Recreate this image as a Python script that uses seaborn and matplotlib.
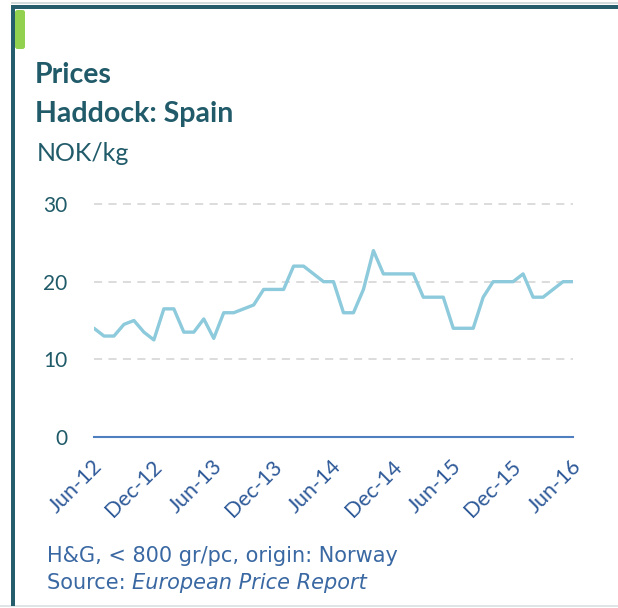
import numpy as np
import pandas as pd
import matplotlib
matplotlib.use("Agg")
import matplotlib.pyplot as plt
import matplotlib.transforms as mtransforms
from matplotlib.patches import Rectangle, FancyBboxPatch
import seaborn as sns

# ---- data ----
months = [d.strftime("%b-%y") for d in pd.date_range("2012-06-01", "2016-06-01", freq="MS")]
prices = [14.0, 13.0, 13.0, 14.5, 15.0, 13.5, 12.5, 16.5, 16.5, 13.5, 13.5, 15.2, 12.7,
          16.0, 16.0, 16.5, 17.0, 19.0, 19.0, 19.0, 22.0, 22.0, 21.0, 20.0, 20.0,
          16.0, 16.0, 19.0, 24.0, 21.0, 21.0, 21.0, 21.0, 18.0, 18.0, 18.0,
          14.0, 14.0, 14.0, 18.0, 20.0, 20.0, 20.0, 21.0, 18.0, 18.0, 19.0, 20.0, 20.0]
tick_labels = ["Jun-12", "Dec-12", "Jun-13", "Dec-13", "Jun-14", "Dec-14", "Jun-15", "Dec-15", "Jun-16"]
y_ticks = [0, 10, 20, 30]

df = pd.DataFrame({"month": months, "price": prices})
df["pos"] = range(len(df))

sns.set_theme(style="white")
plt.rcParams["font.family"] = ["Lato", "DejaVu Sans"]

W, H = 618, 608
fig = plt.figure(figsize=(W / 100, H / 100), dpi=100)

def fx(px):
    return px / W

def fy(py):
    return 1 - py / H

# frame decorations
fig.patches.append(Rectangle((fx(0), fy(606.5)), 1, 0.0025, transform=fig.transFigure,
                             color="#dfe5e6", lw=0, zorder=0))
fig.patches.append(Rectangle((fx(11), fy(4)), 1, 0.0025, transform=fig.transFigure,
                             color="#d3dbdd", lw=0, zorder=0))
fig.patches.append(Rectangle((fx(11), fy(9)), 1, 4.5 / H, transform=fig.transFigure,
                             color="#255d6c", lw=0, zorder=1))
fig.patches.append(Rectangle((fx(11), fy(606)), 4 / W, 601 / H, transform=fig.transFigure,
                             color="#255d6c", lw=0, zorder=1))
fig.patches.append(FancyBboxPatch((fx(15), fy(49)), 10 / W, 39 / H,
                                  boxstyle="round,pad=0,rounding_size=0.004",
                                  transform=fig.transFigure, color="#92d050", lw=0, zorder=1))

ax = fig.add_axes([fx(94), fy(437), (573 - 94) / W, (437 - 204) / H])
sns.lineplot(data=df, x="pos", y="price", ax=ax, color="#8ccadc", lw=2.4, zorder=3)

ax.set_xlim(0, len(months) - 1)
ax.set_ylim(0, 30)
ax.set_xlabel("")
ax.set_ylabel("")
ax.set_yticks(y_ticks)
ax.set_yticklabels([str(v) for v in y_ticks])
pos_ticks = [months.index(t) for t in tick_labels]
ax.set_xticks(pos_ticks)
ax.set_xticklabels(tick_labels, rotation=45, ha="right", va="center", rotation_mode="anchor")

for y in [10, 20, 30]:
    ax.axhline(y, color="#d9d9d9", lw=1.3, ls=(0, (4.5, 3.5)), zorder=1, clip_on=False)

for s in ["top", "right", "left"]:
    ax.spines[s].set_visible(False)
ax.spines["bottom"].set_color("#4f7fbf")
ax.spines["bottom"].set_linewidth(1.5)

ax.tick_params(axis="y", length=0, pad=19, labelsize=15, labelcolor="#1f5a68")
ax.tick_params(axis="x", length=0, pad=19, labelsize=15.5, labelcolor="#2f5a99")
offset = mtransforms.ScaledTranslation(5 / 100, 0, fig.dpi_scale_trans)
for lbl in ax.get_xticklabels():
    lbl.set_transform(lbl.get_transform() + offset)

tc = "#215b6a"
fig.text(fx(35), fy(83), "Prices", fontsize=20.5, fontweight="bold", color=tc, va="baseline")
fig.text(fx(35), fy(122), "Haddock: Spain", fontsize=20.5, fontweight="bold", color=tc, va="baseline")
fig.text(fx(37), fy(161), "NOK/kg", fontsize=18, color=tc, va="baseline")

fc = "#3a68a2"
fs = 15
fig.text(fx(47), fy(562), "H&G, < 800 gr/pc, origin: Norway", fontsize=fs, color=fc,
         va="baseline", family="DejaVu Sans")
t1 = fig.text(fx(47), fy(589), "Source: ", fontsize=fs, color=fc, va="baseline", family="DejaVu Sans")
r = fig.canvas.get_renderer()
bb = t1.get_window_extent(renderer=r)
fig.text(bb.x1 / W, fy(589), "European Price Report", fontsize=fs, color=fc, va="baseline",
         family="DejaVu Sans", style="italic")

fig.savefig("out.png", dpi=100, facecolor="white")
